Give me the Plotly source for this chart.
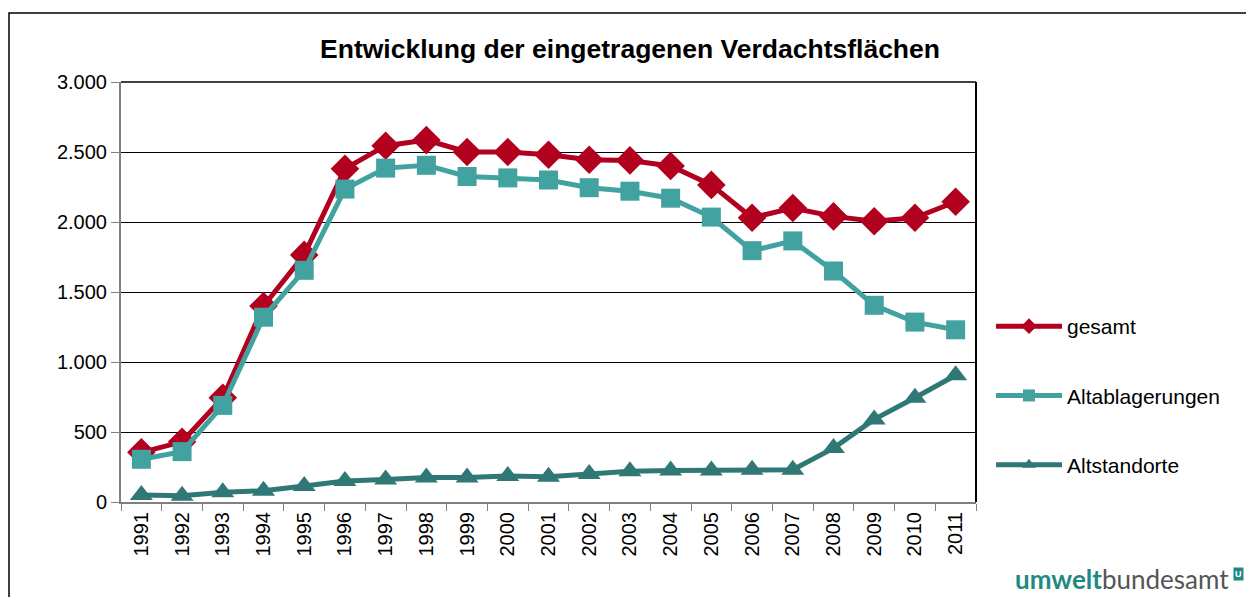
import plotly.graph_objects as go

years = [str(y) for y in range(1991, 2012)]
gesamt = [355, 430, 745, 1400, 1765, 2380, 2545, 2585, 2500, 2500, 2480, 2445, 2440, 2400, 2265, 2030, 2100, 2040, 2005, 2030, 2145]
altablagerungen = [305, 360, 690, 1320, 1655, 2235, 2385, 2405, 2325, 2315, 2300, 2245, 2220, 2170, 2035, 1795, 1865, 1650, 1405, 1285, 1230]
altstandorte = [50, 45, 70, 80, 115, 150, 160, 175, 175, 185, 180, 200, 220, 225, 225, 230, 230, 385, 590, 745, 905]
yticks = [0, 500, 1000, 1500, 2000, 2500, 3000]

RED = "#B2001F"
TEAL = "#42A29F"
DTEAL = "#2F7875"
FONT = "Liberation Sans, Arial, sans-serif"

# figure coordinates (page body has an 8px margin)
W, H = 1246, 589
L, R, T, B = 113, 968, 74, 494
PW, PH = R - L, B - T

def px(x):
    return (x - L) / PW

def py(y):
    return (B - y) / PH

fig = go.Figure()
series = [
    ("gesamt", gesamt, RED, "diamond", 22),
    ("Altablagerungen", altablagerungen, TEAL, "square", 19),
    ("Altstandorte", altstandorte, DTEAL, "triangle-up", 20),
]
for i, (name, vals, col, sym, sz) in enumerate(series):
    fig.add_trace(go.Scatter(
        x=years, y=vals, name=name, mode="lines+markers",
        line=dict(color=col, width=5),
        marker=dict(symbol=sym, size=sz, color=col),
        legendgroup=str(i),
    ))

fig.update_layout(
    width=W, height=H,
    margin=dict(l=L, r=W - R, t=T, b=H - B),
    paper_bgcolor="white", plot_bgcolor="white",
    separators=",.",
    font=dict(family=FONT, size=20, color="black"),
    title=dict(text="<b>Entwicklung der eingetragenen Verdachtsflächen</b>",
               x=622 / W, xanchor="center", y=1 - 41 / H, yanchor="middle",
               font=dict(family=FONT, size=26.5, color="black")),
    showlegend=True,
    legend=dict(x=px(983), xanchor="left", y=py(298), yanchor="top",
                font=dict(family=FONT, size=21, color="black"),
                itemwidth=66, itemsizing="constant",
                tracegroupgap=39, traceorder="grouped", bgcolor="rgba(0,0,0,0)"),
    xaxis=dict(type="category", tickangle=-90, tickson="boundaries",
               ticks="outside", ticklen=7, tickcolor="#808080", tickwidth=1,
               showline=True, linecolor="#808080", linewidth=2,
               showgrid=False, tickfont=dict(size=20), range=[-0.5, 20.5]),
    yaxis=dict(range=[0, 3000], tickvals=yticks, tickformat=",d",
               ticks="outside", ticklen=8, tickcolor="#808080", tickwidth=1,
               showline=True, linecolor="#808080", linewidth=2,
               showgrid=True, gridcolor="black", gridwidth=1,
               tickfont=dict(size=20), zeroline=False),
)

# plot area top/right border
fig.add_shape(type="line", xref="paper", yref="paper", x0=0, x1=1, y0=1, y1=1,
              line=dict(color="black", width=1.5))
fig.add_shape(type="line", xref="paper", yref="paper", x0=1, x1=1, y0=0, y1=1,
              line=dict(color="black", width=2))
# outer frame
fig.add_shape(type="rect", xref="paper", yref="paper",
              x0=px(1), x1=px(1242), y0=py(640), y1=py(5),
              line=dict(color="black", width=1.5))

# logo
fig.add_annotation(xref="paper", yref="paper",
                   x=px(1223), y=py(571), xanchor="right", yanchor="middle",
                   text="<b><span style='color:#1E8A83'>umwelt</span></b><span style='color:#555555'>bundesamt</span>",
                   showarrow=False, font=dict(family="Lato, sans-serif", size=26))
fig.add_annotation(xref="paper", yref="paper",
                   x=px(1230), y=py(566), xanchor="center", yanchor="middle",
                   text="<b>U</b>", showarrow=False,
                   font=dict(family=FONT, size=9, color="white"),
                   bgcolor="#1E8A83", borderpad=1)

fig.write_html("out.html")
